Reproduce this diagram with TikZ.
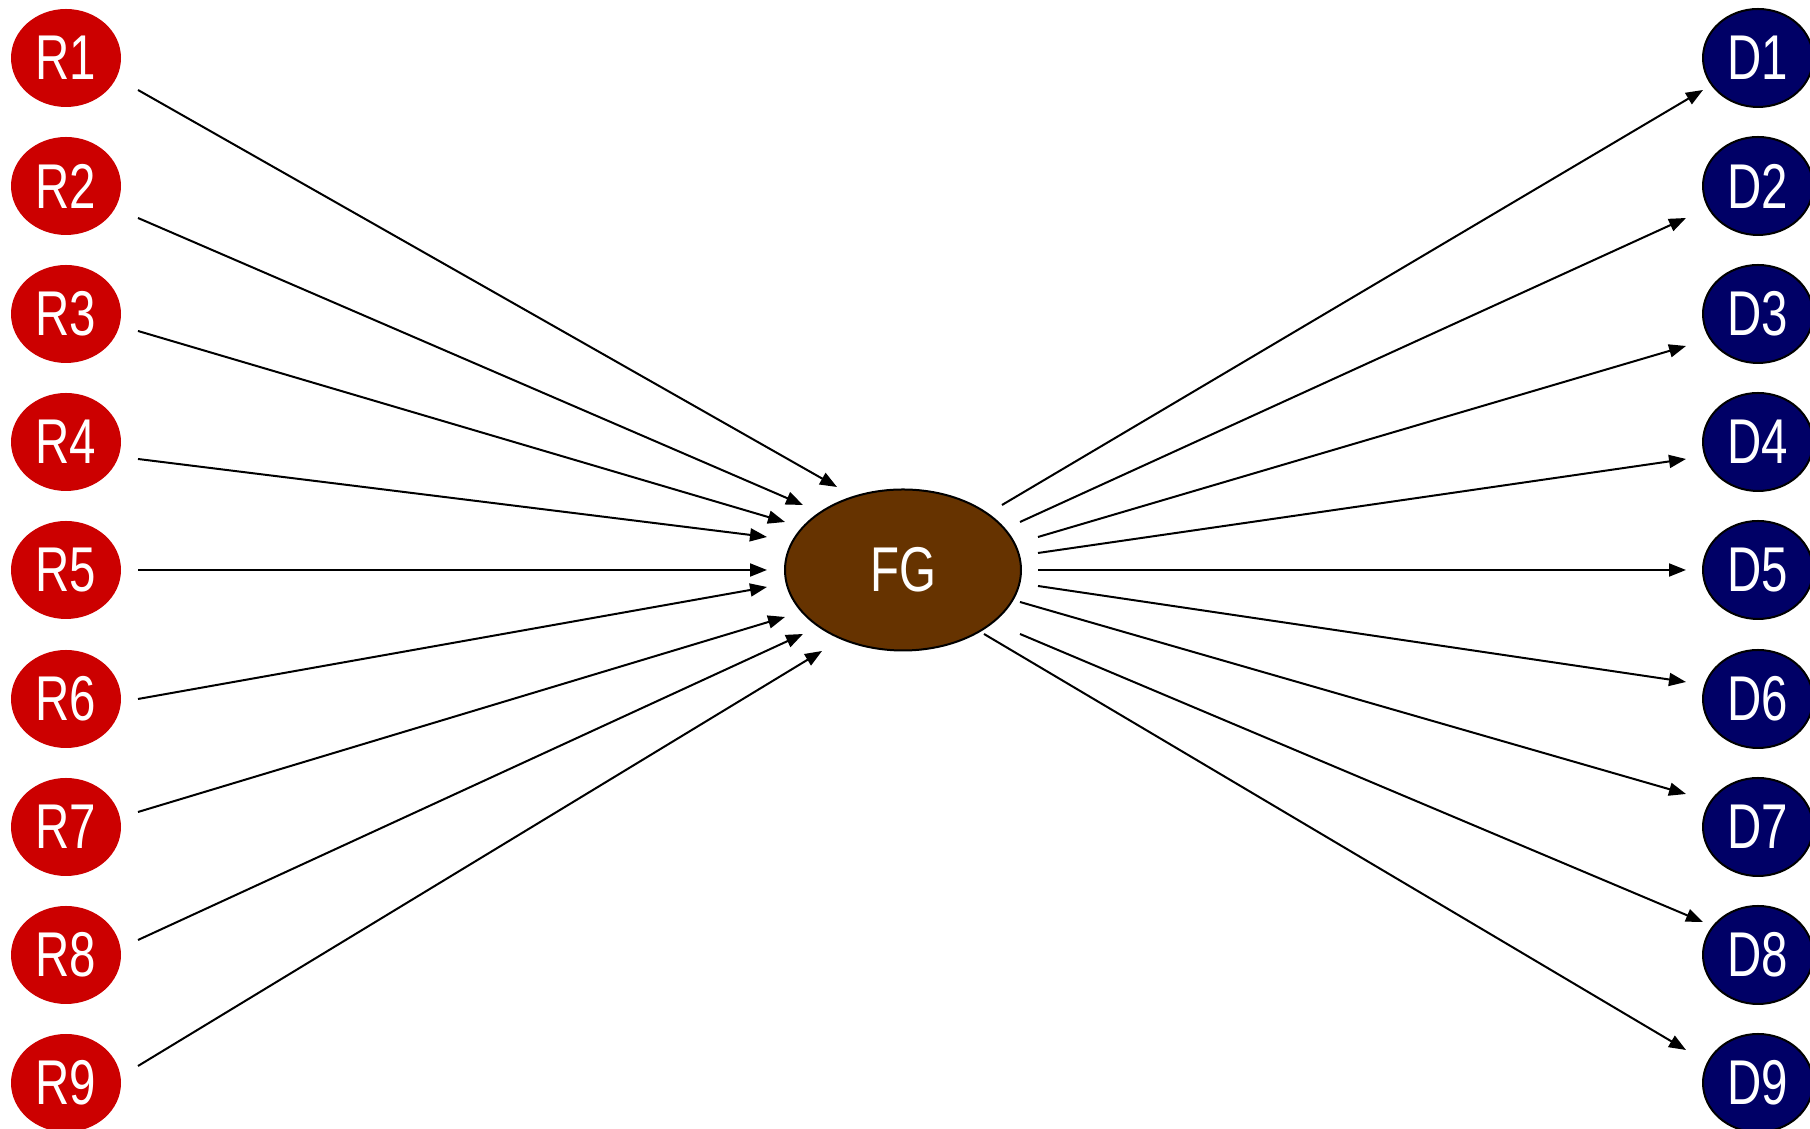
\documentclass[tikz,border=0pt]{standalone}
\usepackage{fontspec}
\newfontfamily\labelfont{Liberation Sans}[FakeStretch=0.75]
\usetikzlibrary{shapes.geometric,arrows.meta}
\definecolor{rootred}{HTML}{CC0000}
\definecolor{drugblue}{HTML}{000066}
\definecolor{fgbrown}{HTML}{663300}
\begin{document}
\begin{tikzpicture}[x=0.1mm, y=-0.1mm,
        rnode/.style={ellipse, fill=rootred, text=white, minimum width=11mm, minimum height=9.8mm, inner sep=0pt, font=\labelfont\fontsize{18}{20}\selectfont},
        dnode/.style={rnode, fill=drugblue, draw=black, line width=0.2mm},
        fgnode/.style={rnode, fill=fgbrown, draw=black, line width=0.2mm, minimum width=23.6mm, minimum height=16.1mm},
        link/.style={-{Triangle[length=1.7mm, width=1.3mm]}, line width=0.2mm}]
        \useasboundingbox (0, 0) rectangle (1810, 1129);

        \node[rnode] (r1) at (66, 58) {R1};
        \node[rnode] (r2) at (66, 186) {R2};
        \node[rnode] (r3) at (66, 314) {R3};
        \node[rnode] (r4) at (66, 442) {R4};
        \node[rnode] (r5) at (66, 570) {R5};
        \node[rnode] (r6) at (66, 699) {R6};
        \node[rnode] (r7) at (66, 827) {R7};
        \node[rnode] (r8) at (66, 955) {R8};
        \node[rnode] (r9) at (66, 1083) {R9};

        \node[fgnode] (fg) at (903, 570) {FG};

        \node[dnode] (d1) at (1758, 58) {D1};
        \node[dnode] (d2) at (1758, 186) {D2};
        \node[dnode] (d3) at (1758, 314) {D3};
        \node[dnode] (d4) at (1758, 442) {D4};
        \node[dnode] (d5) at (1758, 570) {D5};
        \node[dnode] (d6) at (1758, 699) {D6};
        \node[dnode] (d7) at (1758, 827) {D7};
        \node[dnode] (d8) at (1758, 955) {D8};
        \node[dnode] (d9) at (1758, 1083) {D9};

        % ends of the arrows into FG
        \coordinate (r1out) at (138, 90);   \coordinate (fgin1) at (837, 487);
        \coordinate (r2out) at (138, 218);  \coordinate (fgin2) at (803, 505);
        \coordinate (r3out) at (138, 331);  \coordinate (fgin3) at (785, 522);
        \coordinate (r4out) at (138, 459);  \coordinate (fgin4) at (767, 537);
        \coordinate (r5out) at (138, 570);  \coordinate (fgin5) at (767, 570);
        \coordinate (r6out) at (138, 699);  \coordinate (fgin6) at (767, 587);
        \coordinate (r7out) at (138, 812);  \coordinate (fgin7) at (785, 617);
        \coordinate (r8out) at (138, 940);  \coordinate (fgin8) at (803, 634);
        \coordinate (r9out) at (138, 1066); \coordinate (fgin9) at (822, 651);

        % ends of the arrows out of FG
        \coordinate (fgout1) at (1002, 505); \coordinate (d1in) at (1703, 90);
        \coordinate (fgout2) at (1020, 522); \coordinate (d2in) at (1686, 218);
        \coordinate (fgout3) at (1038, 537); \coordinate (d3in) at (1686, 346);
        \coordinate (fgout4) at (1038, 553); \coordinate (d4in) at (1686, 459);
        \coordinate (fgout5) at (1038, 570); \coordinate (d5in) at (1686, 570);
        \coordinate (fgout6) at (1038, 586); \coordinate (d6in) at (1686, 682);
        \coordinate (fgout7) at (1020, 602); \coordinate (d7in) at (1686, 794);
        \coordinate (fgout8) at (1020, 634); \coordinate (d8in) at (1703, 922);
        \coordinate (fgout9) at (984, 634);  \coordinate (d9in) at (1686, 1050);

        \draw[link] (r1out) -- (fgin1);
        \draw[link] (r2out) -- (fgin2);
        \draw[link] (r3out) -- (fgin3);
        \draw[link] (r4out) -- (fgin4);
        \draw[link] (r5out) -- (fgin5);
        \draw[link] (r6out) -- (fgin6);
        \draw[link] (r7out) -- (fgin7);
        \draw[link] (r8out) -- (fgin8);
        \draw[link] (r9out) -- (fgin9);

        \draw[link] (fgout1) -- (d1in);
        \draw[link] (fgout2) -- (d2in);
        \draw[link] (fgout3) -- (d3in);
        \draw[link] (fgout4) -- (d4in);
        \draw[link] (fgout5) -- (d5in);
        \draw[link] (fgout6) -- (d6in);
        \draw[link] (fgout7) -- (d7in);
        \draw[link] (fgout8) -- (d8in);
        \draw[link] (fgout9) -- (d9in);
    \end{tikzpicture}
\end{document}
